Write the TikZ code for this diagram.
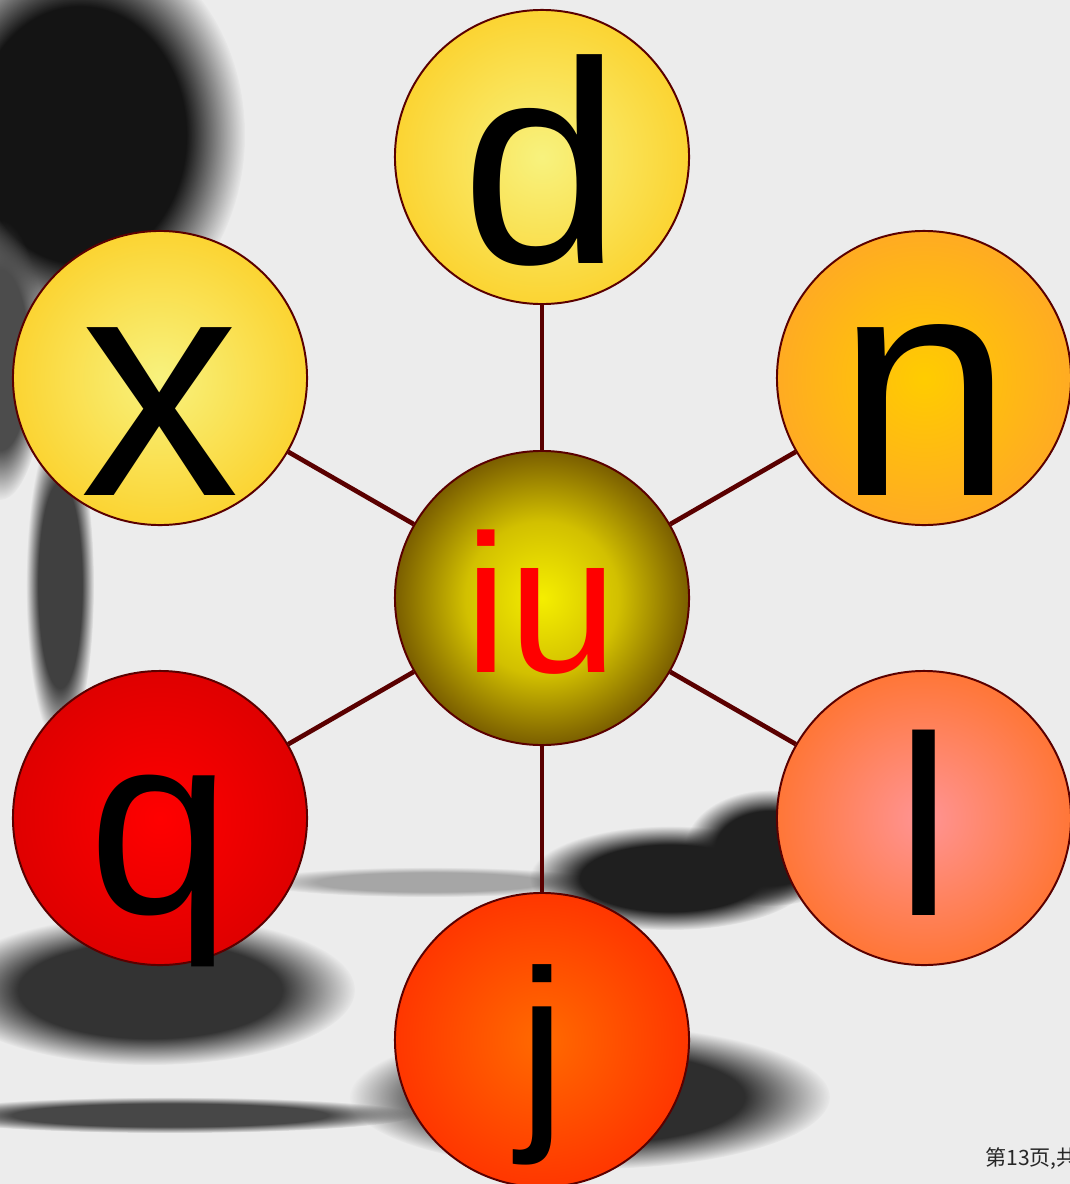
\documentclass[tikz,border=0pt]{standalone}
\usepackage{fontspec}
\setmainfont{Liberation Sans}
\newfontfamily\cjkfont{Noto Sans CJK SC}
\usepackage{tikz}
\usetikzlibrary{fadings}
\definecolor{paper}{HTML}{ECECEC}
\definecolor{rim}{HTML}{5A0000}
\definecolor{goldin}{HTML}{F8F27E}
\definecolor{goldout}{HTML}{FCC814}
\definecolor{amberin}{HTML}{FFCC00}
\definecolor{amberout}{HTML}{FF9E30}
\definecolor{coralin}{HTML}{FF9494}
\definecolor{coralout}{HTML}{FF6A12}
\definecolor{redin}{HTML}{FF0000}
\definecolor{redout}{HTML}{D20000}
\definecolor{flamein}{HTML}{FF6A00}
\definecolor{flameout}{HTML}{FF2200}
\definecolor{hubin}{HTML}{F5EE00}
\definecolor{hubmid}{HTML}{D2C000}
\definecolor{hubdark}{HTML}{7A5E00}
\definecolor{hubout}{HTML}{4A2010}
\pgfdeclareradialshading{ballgold}{\pgfpoint{0bp}{0bp}}{color(0bp)=(goldin); color(35bp)=(goldout); color(50bp)=(goldout)}
\pgfdeclareradialshading{ballamber}{\pgfpoint{0bp}{0bp}}{color(0bp)=(amberin); color(35bp)=(amberout); color(50bp)=(amberout)}
\pgfdeclareradialshading{ballcoral}{\pgfpoint{0bp}{0bp}}{color(0bp)=(coralin); color(35bp)=(coralout); color(50bp)=(coralout)}
\pgfdeclareradialshading{ballred}{\pgfpoint{0bp}{0bp}}{color(0bp)=(redin); color(35bp)=(redout); color(50bp)=(redout)}
\pgfdeclareradialshading{ballflame}{\pgfpoint{0bp}{0bp}}{color(0bp)=(flamein); color(35bp)=(flameout); color(50bp)=(flameout)}
\pgfdeclareradialshading{ballhub}{\pgfpoint{0bp}{0bp}}{color(0bp)=(hubin); color(13bp)=(hubmid); color(25bp)=(hubdark); color(35bp)=(hubout); color(50bp)=(hubout)}
\pgfdeclareradialshading{inkmask}{\pgfpoint{0bp}{0bp}}{color(0bp)=(white); color(16bp)=(white); color(25bp)=(black); color(50bp)=(black)}
\pgfdeclarefading{inkfade}{\pgfuseshading{inkmask}}

\begin{document}
\begin{tikzpicture}[x=0.025cm,y=-0.025cm,
  ball/.style={circle,draw=rim,line width=1.4pt,minimum size=7.35cm,inner sep=0pt,shading=#1},
  spoke/.style={draw=rim,line width=3.3pt},
  glyph/.style={anchor=base,inner sep=0pt,text=black},
  blob/.style={fill=black!#1,path fading=inkfade}]
\useasboundingbox (0,0) rectangle (1070,1184);
\fill[paper] (0,0) rectangle (1070,1184);
\foreach \cx/\cy/\rx/\ry/\tone in {80/135/165/200/92, 0/360/45/140/70, 60/585/34/160/75,
  150/990/205/75/80, 430/882/175/15/35, 670/878/140/52/88, 770/848/85/58/88,
  590/1097/240/72/82, 170/1115/245/18/72}
  \fill[blob=\tone] (\cx,\cy) ellipse [x radius=\rx, y radius=\ry];
\node[ball=ballhub] (iu) at (542,598) {};
\node[ball=ballgold] (d) at (542,157) {};
\node[ball=ballamber] (n) at (924,378) {};
\node[ball=ballcoral] (l) at (924,818) {};
\node[ball=ballflame] (j) at (542,1040) {};
\node[ball=ballred] (q) at (160,818) {};
\node[ball=ballgold] (x) at (160,378) {};
\foreach \s in {d,n,l,j,q,x} \draw[spoke] (iu) -- (\s);
\node[glyph,font=\fontsize{205}{205}\selectfont] (td) at (542,263) {d};
\node[glyph,font=\fontsize{226}{226}\selectfont] (tn) at (925,495) {n};
\node[glyph,font=\fontsize{182}{182}\selectfont] (tl) at (924,915) {l};
\node[glyph,font=\fontsize{153}{153}\selectfont] (tj) at (542,1120) {j};
\node[glyph,font=\fontsize{183}{183}\selectfont] (tq) at (160,913) {q};
\node[glyph,font=\fontsize{226}{226}\selectfont] (tx) at (160,495) {x};
\node[glyph,text=red,font=\fontsize{140}{140}\selectfont] (tiu) at (541,672) {iu};
\node[anchor=base west,inner sep=0pt,text=black!85,font=\cjkfont\fontsize{15}{15}\selectfont] (page) at (985,1165) {第13页,共};
\end{tikzpicture}
\end{document}
